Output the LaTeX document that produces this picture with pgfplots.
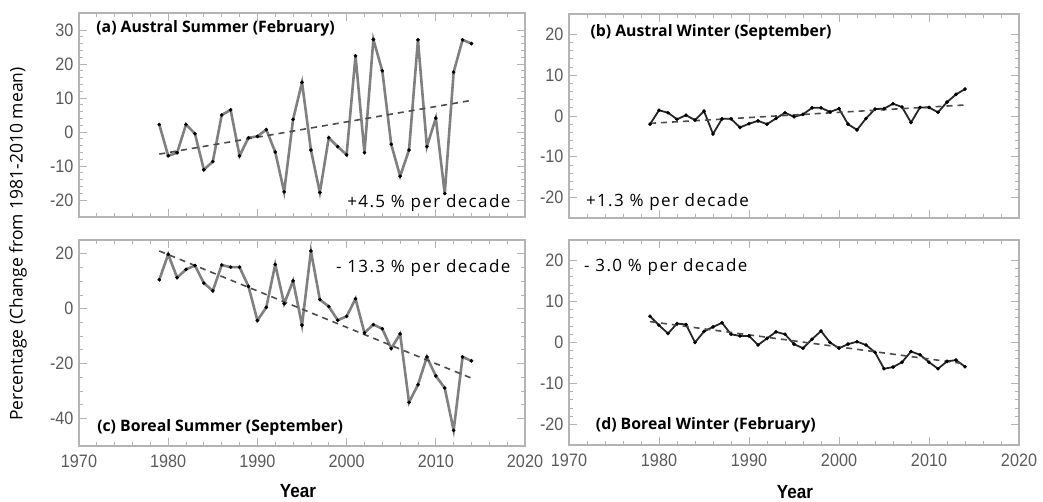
\documentclass[border=0pt]{standalone}
\usepackage{fontspec}
\setmainfont{Open Sans}
\newfontfamily\tickfont[FakeStretch=0.9]{Liberation Sans}
\newfontfamily\ratefont[LetterSpace=8]{Open Sans}
\usepackage{pgfplots}
\pgfplotsset{compat=1.18}

\definecolor{boxgray}{HTML}{B4B4B4}
\definecolor{linegray}{HTML}{808080}
\definecolor{tickgray}{HTML}{5A5A5A}

\tikzset{
  ttl/.style={font=\bfseries\fontsize{15.8}{16}\selectfont, anchor=west},
  rate/.style={font=\ratefont\fontsize{17}{17}\selectfont},
}
\pgfplotsset{
  panel/.style={
    scale only axis, width=446pt, height=204pt,
    xmin=1970, xmax=2020, xtick={1970,1980,...,2020},
    minor x tick num=4,
    axis line style={boxgray, line width=1.2pt},
    every tick/.style={boxgray, line width=0.8pt},
    major tick length=8pt, minor tick length=4pt,
    tick align=inside,
    ticklabel style={font=\tickfont\fontsize{18}{18}\selectfont, text=tickgray},
    xticklabel style={yshift=-5pt},
    yticklabel style={xshift=-2pt},
    /pgf/number format/assume math mode=true,
    /pgf/number format/1000 sep={},
    clip=false,
  },
  toprow/.style={xticklabels={}},
  datline/.style={linegray, line width=2.6pt, mark=*, mark size=1.7pt,
    mark options={black, fill=black, line width=0.3pt, solid}},
  darkline/.style={black!85, line width=1.8pt, mark=*, mark size=1.7pt,
    mark options={black, fill=black, line width=0.3pt, solid}},
  trend/.style={black!70, line width=1.6pt, dash pattern=on 6pt off 5pt},
}

\begin{document}
\begin{tikzpicture}[x=1pt,y=1pt]
\useasboundingbox (0,0) rectangle (1043,502);

% (a) Austral summer
\begin{axis}[panel, toprow, at={(79pt,285pt)}, anchor=south west,
  ymin=-25, ymax=35, ytick={-20,-10,...,30}, minor y tick num=4]
\addplot[datline] coordinates {
(1979,2.2)(1980,-7.0)(1981,-6.1)(1982,2.2)(1983,-0.5)(1984,-11.1)(1985,-8.7)
(1986,5.0)(1987,6.5)(1988,-7.0)(1989,-1.7)(1990,-1.3)(1991,0.7)(1992,-5.9)
(1993,-17.6)(1994,3.7)(1995,14.6)(1996,-5.3)(1997,-17.8)(1998,-1.7)(1999,-4.3)
(2000,-6.7)(2001,22.4)(2002,-6.1)(2003,27.2)(2004,18.0)(2005,-3.6)(2006,-13.0)
(2007,-5.3)(2008,27.1)(2009,-4.3)(2010,4.1)(2011,-18.1)(2012,17.6)(2013,27.1)
(2014,26.0)};
\addplot[trend] coordinates {(1979,-6.5)(2014,9.3)};
\node[ttl] at (rel axis cs:0.031,0.926) {(a) Austral Summer (February)};
\node[rate, anchor=east] at (rel axis cs:0.975,0.069) {+4.5 \% per decade};
\end{axis}

% (b) Austral winter
\begin{axis}[panel, toprow, width=450pt, at={(569pt,284pt)}, anchor=south west,
  ymin=-25, ymax=25, ytick={-20,-10,...,20}, minor y tick num=4]
\addplot[darkline] coordinates {
(1979,-2.0)(1980,1.4)(1981,0.8)(1982,-0.8)(1983,0.2)(1984,-1.0)(1985,1.2)
(1986,-4.4)(1987,-0.7)(1988,-0.7)(1989,-2.8)(1990,-1.9)(1991,-1.2)(1992,-2.0)
(1993,-0.6)(1994,0.8)(1995,-0.2)(1996,0.4)(1997,2.0)(1998,2.0)(1999,1.0)
(2000,1.8)(2001,-2.0)(2002,-3.4)(2003,-0.6)(2004,1.7)(2005,1.8)(2006,3.0)
(2007,2.2)(2008,-1.6)(2009,2.1)(2010,2.1)(2011,0.9)(2012,3.4)(2013,5.3)
(2014,6.6)};
\addplot[trend] coordinates {(1979,-1.8)(2014,2.7)};
\node[ttl] at (rel axis cs:0.04,0.91) {(b) Austral Winter (September)};
\node[rate, anchor=west] at (rel axis cs:0.03,0.078) {+1.3 \% per decade};
\end{axis}

% (c) Boreal summer
\begin{axis}[panel, height=206pt, at={(79pt,56pt)}, anchor=south west,
  ymin=-50, ymax=25, ytick={-40,-20,0,20}, minor y tick num=3]
\addplot[datline] coordinates {
(1979,10.5)(1980,19.8)(1981,11.3)(1982,14.3)(1983,15.7)(1984,9.3)(1985,6.5)
(1986,15.9)(1987,15.1)(1988,15.1)(1989,8.1)(1990,-4.3)(1991,0.5)(1992,16.1)
(1993,1.8)(1994,10.1)(1995,-6.0)(1996,21.0)(1997,3.3)(1998,0.8)(1999,-4.2)
(2000,-2.8)(2001,3.6)(2002,-8.8)(2003,-5.8)(2004,-7.3)(2005,-14.5)(2006,-9.2)
(2007,-34.1)(2008,-27.7)(2009,-17.6)(2010,-24.5)(2011,-28.9)(2012,-44.3)
(2013,-17.6)(2014,-19.0)};
\addplot[trend] coordinates {(1979,21.0)(2014,-25.3)};
\node[ttl] at (rel axis cs:0.033,0.092) {(c) Boreal Summer (September)};
\node[rate, anchor=east] at (rel axis cs:0.975,0.864) {- 13.3 \% per decade};
\end{axis}

% (d) Boreal winter
\begin{axis}[panel, width=450pt, height=205pt, at={(569pt,57pt)}, anchor=south west,
  ymin=-25, ymax=25, ytick={-20,-10,...,20}, minor y tick num=4]
\addplot[darkline] coordinates {
(1979,6.4)(1980,4.2)(1981,2.2)(1982,4.6)(1983,4.4)(1984,0.0)(1985,2.7)
(1986,3.8)(1987,4.8)(1988,2.0)(1989,1.6)(1990,1.6)(1991,-0.6)(1992,1.0)
(1993,2.6)(1994,2.0)(1995,-0.4)(1996,-1.4)(1997,0.8)(1998,2.8)(1999,0.0)
(2000,-1.4)(2001,-0.4)(2002,0.2)(2003,-0.6)(2004,-2.4)(2005,-6.4)(2006,-6.0)
(2007,-4.8)(2008,-2.2)(2009,-3.0)(2010,-4.8)(2011,-6.4)(2012,-4.6)(2013,-4.3)
(2014,-5.9)};
\addplot[trend] coordinates {(1979,5.1)(2014,-5.2)};
\node[ttl] at (rel axis cs:0.052,0.098) {(d) Boreal Winter (February)};
\node[rate, anchor=west] at (rel axis cs:0.026,0.868) {- 3.0 \% per decade};
\end{axis}

\node[font=\tickfont\bfseries\fontsize{19}{19}\selectfont] at (298,11) {Year};
\node[font=\tickfont\bfseries\fontsize{19}{19}\selectfont] at (795,10) {Year};
\node[rotate=90, font=\fontsize{17.5}{17.5}\selectfont] at (18,258)
  {Percentage (Change from 1981-2010 mean)};
\end{tikzpicture}
\end{document}
